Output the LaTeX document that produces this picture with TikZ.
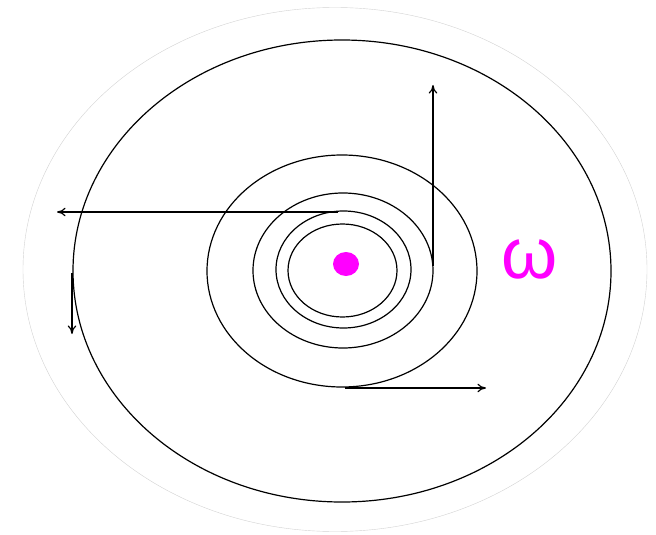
\documentclass[tikz,border=0pt]{standalone}
\usepackage{fontspec}
\usepackage{xcolor}
\usepackage{tikz}
\usetikzlibrary{arrows.meta}
\newfontfamily\omegafont{Liberation Sans}
\definecolor{spin}{RGB}{255,0,255}

\begin{document}
\begin{tikzpicture}[
  x=1pt, y=-1pt,
  orbit/.style={draw=black, line width=1.2pt},
  halo/.style={draw=gray!35, line width=0.4pt},
  vel/.style={-{To[length=3mm, width=3mm]}, line width=1.2pt},
  label/.style={text=spin, font=\omegafont\fontsize{72}{72}\selectfont, inner sep=0pt}
]
\useasboundingbox (0,0) rectangle (656,535);
% faint outer rim and the orbits
\draw[halo] (335,269.5) ellipse [x radius=312, y radius=262];
\draw[orbit] (342,271) ellipse [x radius=269, y radius=231];
\draw[orbit] (342,271) ellipse [x radius=135, y radius=116];
\draw[orbit] (343,270.5) ellipse [x radius=90, y radius=77.5];
\draw[orbit] (343.5,269.5) ellipse [x radius=67.5, y radius=58.5];
\draw[orbit] (342.5,270.5) ellipse [x radius=54.5, y radius=46.5];
% centre
\fill[spin] (346,264) ellipse [x radius=13, y radius=12];
\node[label] (omega) at (530,259) {ω};
% velocity vectors
\coordinate (top) at (338,212);
\coordinate (topend) at (57,212);
\coordinate (right) at (433,266);
\coordinate (rightend) at (433,85);
\coordinate (bottom) at (345,388);
\coordinate (bottomend) at (486,388);
\coordinate (left) at (72,273);
\coordinate (leftend) at (72,334);
\draw[vel] (top) -- (topend);
\draw[vel] (right) -- (rightend);
\draw[vel] (bottom) -- (bottomend);
\draw[vel] (left) -- (leftend);
\end{tikzpicture}
\end{document}
